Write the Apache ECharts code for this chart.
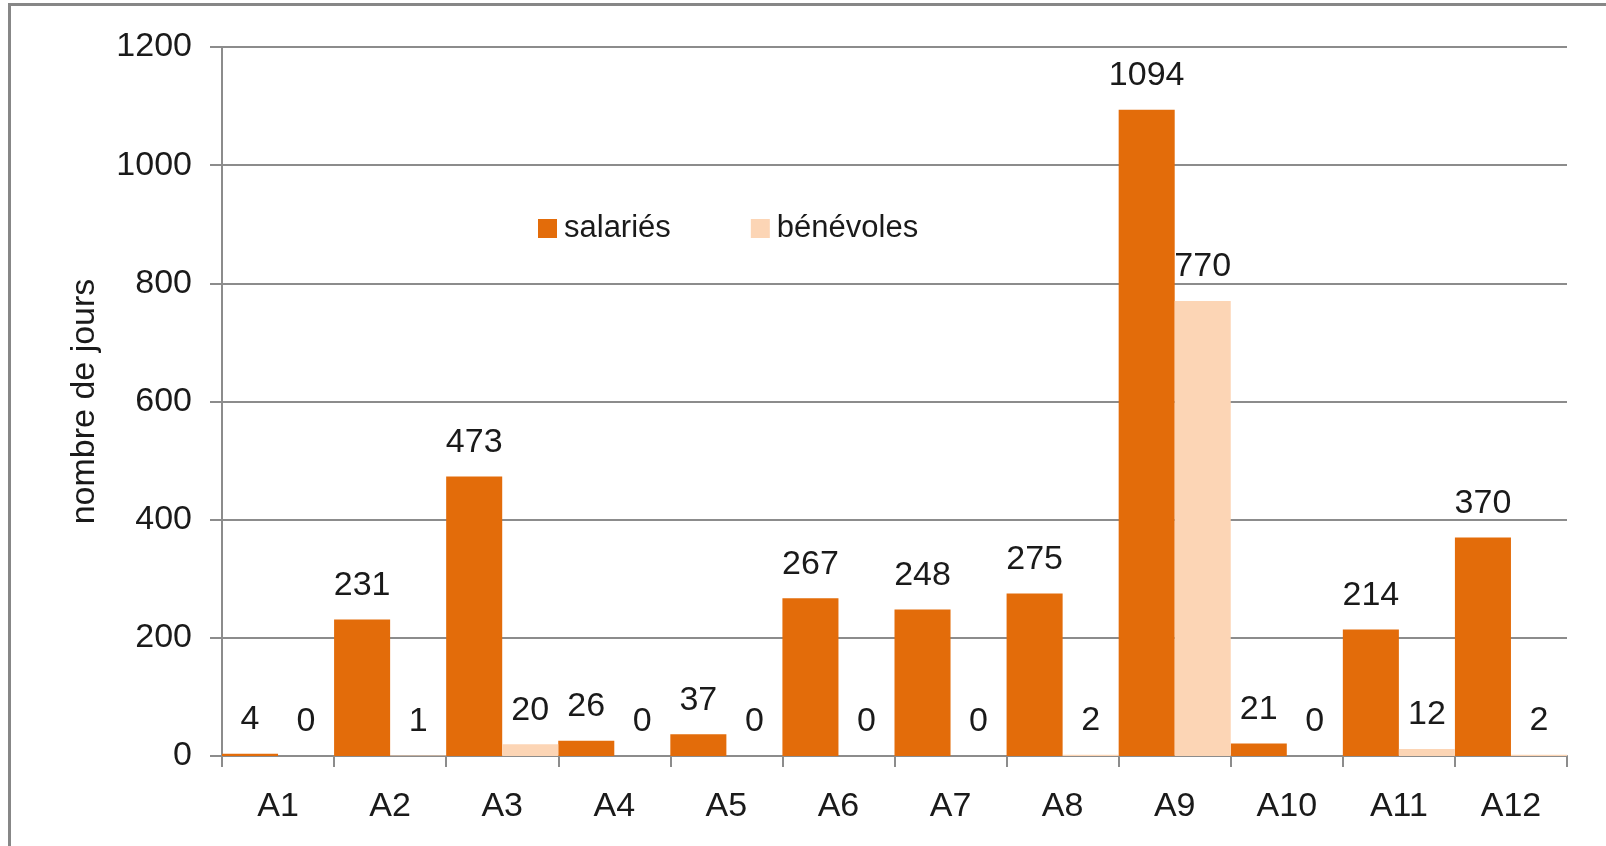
<!DOCTYPE html>
<html>
<head>
<meta charset="utf-8">
<script src="https://cdn.jsdelivr.net/npm/echarts@6/dist/echarts.min.js"></script>
<style>
html,body{margin:0;padding:0;background:#fff;}
#c{width:1606px;height:846px;}
</style>
</head>
<body>
<div id="c"></div>
<script>
const categories = ['A1','A2','A3','A4','A5','A6','A7','A8','A9','A10','A11','A12'];
const salaries = [4,231,473,26,37,267,248,275,1094,21,214,370];
const benevoles = [0,1,20,0,0,0,0,2,770,0,12,2];
const yTicks = {min:0,max:1200,interval:200};

const FONT = 'Liberation Sans';
const TXT = '#1a1a1a';
const GRAY = '#8c8c8c';

const chart = echarts.init(document.getElementById('c'), null, {renderer:'canvas'});
const lbl = {show:true, position:'top', distance:17, fontSize:34, fontFamily:FONT, color:TXT};
chart.setOption({
  animation:false,
  backgroundColor:'#fff',
  graphic:[{type:'rect', shape:{x:9.5,y:4.5,width:2000,height:2000}, style:{fill:'none',stroke:'#878787',lineWidth:3}, silent:true}],
  grid:{left:222,right:39,top:47,bottom:90,containLabel:false},
  legend:{
    left:533, top:208, itemWidth:19, itemHeight:19, itemGap:80, icon:'rect',
    textStyle:{fontSize:31,fontFamily:FONT,color:TXT,padding:[0,0,0,2]},
    data:['salariés','bénévoles']
  },
  xAxis:{
    type:'category', data:categories,
    axisLine:{lineStyle:{color:GRAY,width:2}},
    axisTick:{show:true,length:11,alignWithLabel:false,lineStyle:{color:GRAY,width:2}},
    axisLabel:{fontSize:34,fontFamily:FONT,color:TXT,margin:34}
  },
  yAxis:{
    type:'value', min:yTicks.min, max:yTicks.max, interval:yTicks.interval,
    name:'nombre de jours', nameLocation:'middle', nameGap:120,
    nameTextStyle:{fontSize:34,fontFamily:FONT,color:TXT},
    axisLine:{show:true,lineStyle:{color:GRAY,width:2}},
    axisTick:{show:true,length:12,lineStyle:{color:GRAY,width:2}},
    axisLabel:{fontSize:34,fontFamily:FONT,color:TXT,margin:30,formatter:function(v){return String(v);}},
    splitLine:{lineStyle:{color:GRAY,width:2}}
  },
  series:[
    {name:'salariés', type:'bar', data:salaries, barGap:'0%', barCategoryGap:'0%',
     itemStyle:{color:'#E36C0A'}, label:lbl},
    {name:'bénévoles', type:'bar', data:benevoles, barGap:'0%', barCategoryGap:'0%',
     itemStyle:{color:'#FCD5B5'}, label:lbl}
  ]
});
</script>
</body>
</html>
